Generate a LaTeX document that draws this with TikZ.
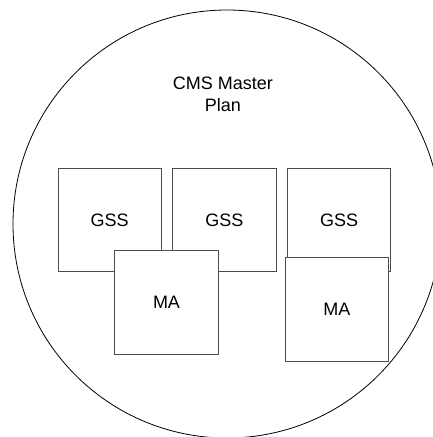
\documentclass[tikz,border=0pt]{standalone}
\usepackage{fontspec}
\setmainfont{Liberation Sans}
\usetikzlibrary{positioning}
\definecolor{boxgray}{gray}{0.3}
\tikzstyle{unit} = [rectangle, draw=boxgray, fill=white, line width=0.8pt, minimum width=103.5pt, minimum height=103.5pt, inner sep=0pt, font=\fontsize{18}{22}\selectfont]
\tikzstyle{plan} = [circle, draw, line width=0.8pt, minimum size=428pt, inner sep=0pt]

\begin{document}
\begin{tikzpicture}[x=1pt, y=-1pt]
        \useasboundingbox (0,0) rectangle (433,437);
        \clip (0,0) rectangle (433,437);
        \node (master) [plan] at (227,224) {};
        \node (title) [align=center, font=\fontsize{18}{22}\selectfont] at (223,94) {CMS Master\\Plan};

        \node (gss1) [unit] at (109.7,220) {GSS};
        \node (gss2) [unit, right=10.4pt of gss1] {GSS};
        \node (gss3) [unit, right=10.4pt of gss2] {GSS};

        \node (ma1) [unit] at (166.5,302.3) {MA};
        \node (ma2) [unit] at (336.8,309.3) {MA};
    \end{tikzpicture}
\end{document}
